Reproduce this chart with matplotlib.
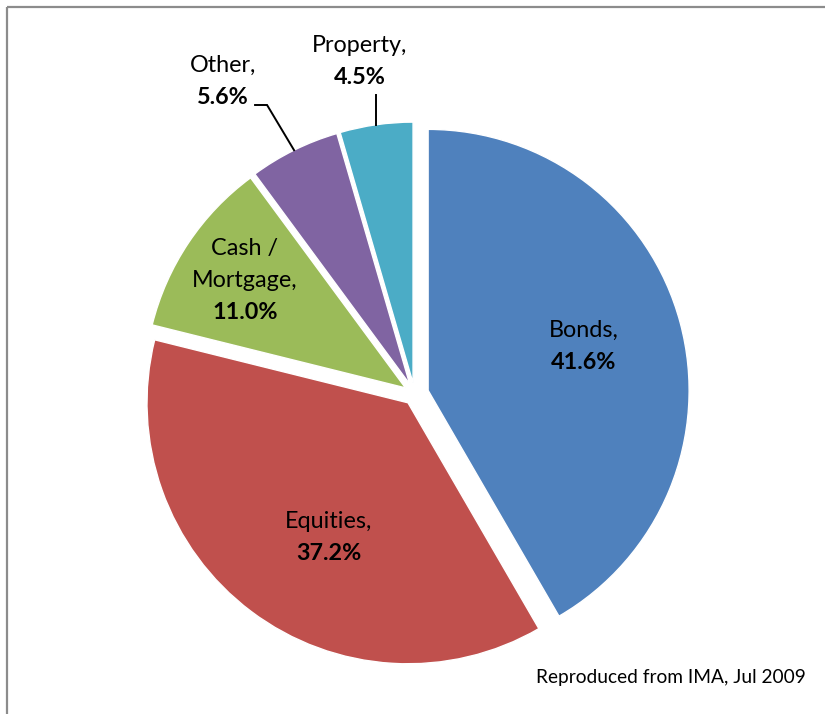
import numpy as np
import matplotlib
matplotlib.use("Agg")
import matplotlib.pyplot as plt

plt.rcParams['font.family'] = ['Lato', 'DejaVu Sans']

names = ["Bonds,", "Equities,", "Cash /\nMortgage,", "Other,", "Property,"]
shares = [41.6, 37.2, 11.0, 5.6, 4.5]
colors = ["#4F81BD", "#C0504D", "#9BBB59", "#8064A2", "#4BACC6"]

W, H = 825, 714
fig = plt.figure(figsize=(W / 100, H / 100), dpi=100)
ax = fig.add_axes([0, 0, 1, 1])

# work in pixel units, y measured upward
cx, cy, R = 414.6, H - 394, 261
explode = [14, 11, 11, 11, 11]

wedges, _ = ax.pie(shares, colors=colors, startangle=90, counterclock=False,
                   center=(cx, cy), radius=R, explode=explode,
                   wedgeprops=dict(edgecolor="white", linewidth=1))
ax.set_xlim(0, W)
ax.set_ylim(0, H)
ax.set_aspect("equal")
ax.axis("off")

lab_fs = 16.8
line_h = 32

def put_label(x, y, name, val, ha="center"):
    lines = name.split("\n")
    n = len(lines) + 1
    top = y + (n - 1) * line_h / 2
    for i, s in enumerate(lines):
        ax.text(x, top - i * line_h, s, ha=ha, va="center", fontsize=lab_fs, color="black")
    ax.text(x, top - (n - 1) * line_h, f"{val:.1f}%", ha=ha, va="center",
            fontsize=lab_fs, fontweight="bold", color="black")

# inside labels: (fraction of radius, turn from the mid angle in degrees)
inside = {0: (0.62, 0.6), 1: (0.60, 6.5), 2: (0.74, 0.0)}
for i, (frac, turn) in inside.items():
    w = wedges[i]
    th = np.deg2rad((w.theta1 + w.theta2) / 2 + turn)
    x = w.center[0] + frac * w.r * np.cos(th)
    y = w.center[1] + frac * w.r * np.sin(th)
    put_label(x, y, names[i], shares[i])

def arc_mid(w):
    th = np.deg2rad((w.theta1 + w.theta2) / 2)
    return w.center[0] + w.r * np.cos(th), w.center[1] + w.r * np.sin(th)

# Other: label up-left with an elbow leader
w = wedges[3]
ax_, ay_ = arc_mid(w)
put_label(223, H - 81, names[3], shares[3])
ax.plot([ax_, ax_ - 27, ax_ - 39], [ay_, H - 105, H - 105], color="black", lw=1.4,
        solid_joinstyle="miter")

# Property: label above with a straight leader
w = wedges[4]
px, py = arc_mid(w)
put_label(360, H - 62, names[4], shares[4])
ax.plot([px, px], [py, H - 95], color="black", lw=1.4)

ax.text(806, H - 677, "Reproduced from IMA, Jul 2009", ha="right", va="center",
        fontsize=13.8, color="black")

# frame lines on the top and left edges
ax.plot([6.5, 6.5], [0, H - 6.5], color="#8c8c8c", lw=1.6, solid_capstyle="butt")
ax.plot([6.5, W], [H - 6.5, H - 6.5], color="#8c8c8c", lw=1.6, solid_capstyle="butt")

fig.savefig("out.png", dpi=100)
